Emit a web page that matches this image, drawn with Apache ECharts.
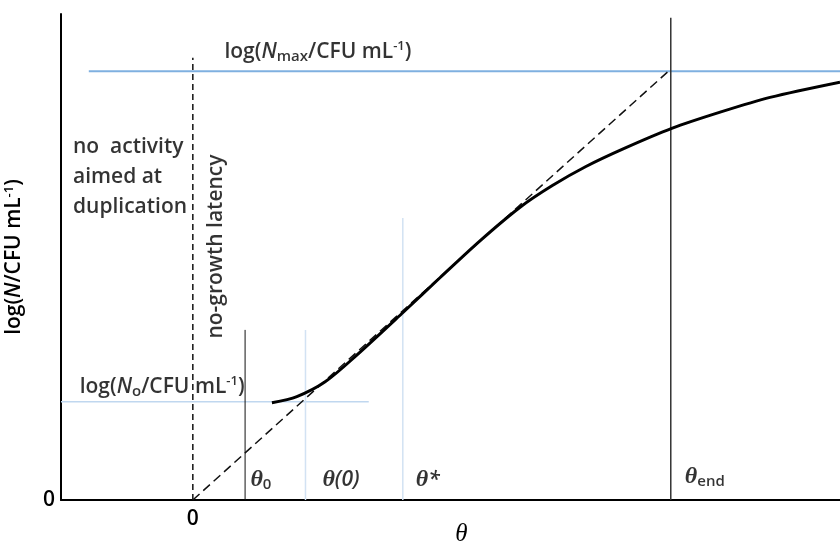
<!DOCTYPE html>
<html>
<head>
<meta charset="utf-8">
<script src="https://cdn.jsdelivr.net/npm/echarts@6/dist/echarts.min.js"></script>
<style>
  html, body { margin: 0; padding: 0; background: #fff; }
  #chart { width: 840px; height: 544px; }
</style>
</head>
<body>
<div id="chart"></div>
<script>
// growth curve (theta, log N)
const curvePoints = [
  [1.65, 2.04], [2.17, 2.17], [2.76, 2.48], [3.42, 3.04], [4.39, 3.94],
  [5.16, 4.67], [5.99, 5.44], [6.82, 6.14], [7.5, 6.6], [8.2, 7.0],
  [9.0, 7.38], [9.99, 7.8], [11.0, 8.14], [12.04, 8.45], [13.5, 8.77]
]
// tangent through origin to N max
const tangentPoints = [[0, 0], [9.9, 8.98]]

const logN0 = 2.06
const logNmax = 9.0
const theta0 = 1.09
const thetaZero = 2.35
const thetaStar = 4.38
const thetaEnd = 9.97

const xMin = -2.75
const xMax = 13.5
const yMax = 10.2

// annotation anchors [x, y, text]
const annotations = [
  [2.61, 9.40, '{a|log(}{i|N}{b|max}{a|/CFU mL}{s|-1}{a|)}'],
  [-0.64, 2.37, '{a|log(}{i|N}{b|o}{a|/CFU mL}{s|-1}{a|)}'],
  [1.42, 0.42, '{t|θ}{b|0}'],
  [3.09, 0.42, '{t|θ}{it|(0)}'],
  [4.9, 0.42, '{t|θ}{it|*}'],
  [10.68, 0.48, '{t|θ}{b|end}']
]

const font = '"Open Sans", sans-serif'
const serif = '"Liberation Serif", serif'
const rich = {
  a: { fontSize: 21, fontFamily: font, fontWeight: 600, color: '#000' },
  i: { fontSize: 21, fontFamily: font, fontWeight: 600, fontStyle: 'italic', color: '#000' },
  b: { fontSize: 15, fontFamily: font, fontWeight: 600, color: '#000', verticalAlign: 'bottom', padding: [9, 0, 0, 0] },
  s: { fontSize: 13, fontFamily: font, fontWeight: 600, color: '#000', verticalAlign: 'top', padding: [0, 0, 9, 0] },
  t: { fontSize: 24, fontFamily: serif, fontStyle: 'italic', fontWeight: 'bold', color: '#000' },
  it: { fontSize: 21, fontFamily: font, fontStyle: 'italic', fontWeight: 600, color: '#000' }
}

const segment = (pts, color, width, type) => ({
  type: 'line',
  data: pts,
  symbol: 'none',
  silent: true,
  lineStyle: { color: color, width: width, type: type || 'solid' },
  z: 3
})

const chart = echarts.init(document.getElementById('chart'))
chart.setOption({
  animation: false,
  grid: { left: 61, right: 0, top: 14, bottom: 44, containLabel: false, outerBoundsMode: 'none' },
  xAxis: {
    type: 'value', min: xMin, max: xMax, interval: 0.25,
    name: 'θ', nameLocation: 'middle', nameGap: 22, nameMoveOverlap: false,
    nameTextStyle: { fontSize: 25, fontFamily: serif, fontStyle: 'italic', color: '#000', padding: [0, 0, 0, 22] },
    axisLine: { onZero: false, lineStyle: { color: '#000', width: 2 } },
    axisTick: { show: false },
    splitLine: { show: false },
    axisLabel: {
      fontSize: 21, fontFamily: font, fontWeight: 600, color: '#000', margin: 9,
      formatter: v => (Math.abs(v) < 1e-9 ? '0' : '')
    }
  },
  yAxis: {
    type: 'value', min: 0, max: yMax, interval: 0.2,
    name: '{a|log(}{i|N}{a|/CFU mL}{s|-1}{a|)}', nameLocation: 'middle', nameGap: 36,
    nameRotate: 90, nameMoveOverlap: false,
    nameTextStyle: { rich: rich },
    axisLine: { onZero: false, lineStyle: { color: '#000', width: 2 } },
    axisTick: { show: false },
    splitLine: { show: false },
    axisLabel: {
      fontSize: 21, fontFamily: font, fontWeight: 600, color: '#000', margin: 6,
      verticalAlign: 'middle', padding: [0, 0, 10, 0],
      formatter: v => (Math.abs(v) < 1e-9 ? '0' : '')
    }
  },
  series: [
    segment([[-2.17, logNmax], [xMax, logNmax]], '#7fb0e0', 2),
    segment([[xMin, logN0], [3.67, logN0]], '#c0d7ef', 1.5),
    segment([[thetaZero, 0], [thetaZero, 3.57]], '#d2e2f3', 1.5),
    segment([[thetaStar, 0], [thetaStar, 5.92]], '#d2e2f3', 1.5),
    segment([[theta0, 0], [theta0, 3.57]], '#111', 1),
    segment([[thetaEnd, 0], [thetaEnd, 10.12]], '#333', 1.5),
    segment([[0, 0], [0, 9.28]], '#111', 1.5, [6, 4]),
    segment(tangentPoints, '#111', 1.5, [9, 5]),
    {
      type: 'line',
      data: curvePoints,
      smooth: 0.3,
      symbol: 'none',
      silent: true,
      lineStyle: { color: '#000', width: 3 },
      z: 4
    },
    {
      type: 'scatter',
      symbolSize: 0,
      silent: true,
      data: annotations.map(a => ({ value: [a[0], a[1]], label: { formatter: a[2] } })),
      label: { show: true, position: 'inside', align: 'center', verticalAlign: 'middle', rich: rich },
      z: 5
    },
    {
      type: 'scatter',
      symbolSize: 0,
      silent: true,
      data: [
        { value: [-2.5, 6.78], label: { formatter: 'no  activity\naimed at\nduplication', align: 'left', lineHeight: 30 } },
        { value: [0.48, 5.32], label: { formatter: 'no-growth latency', rotate: 90 } }
      ],
      label: { show: true, position: 'inside', align: 'center', verticalAlign: 'middle', fontSize: 21, fontWeight: 600, fontFamily: font, color: '#000' },
      z: 5
    }
  ]
})
</script>
</body>
</html>
